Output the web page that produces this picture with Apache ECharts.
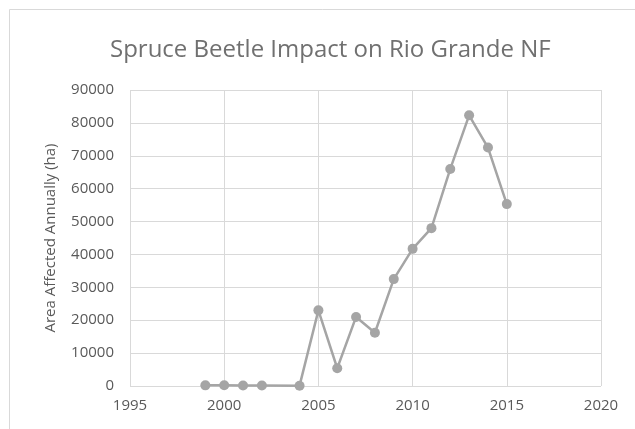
<!DOCTYPE html>
<html>
<head>
<meta charset="utf-8">
<script src="https://cdn.jsdelivr.net/npm/echarts@6/dist/echarts.min.js"></script>
<style>
  html, body { margin: 0; padding: 0; background: #fff; }
  #chart { width: 635px; height: 429px; }
</style>
</head>
<body>
<div id="chart"></div>
<script>
// Survey years and area affected by spruce beetle each year (ha)
const years = [1999, 2000, 2001, 2002, 2004, 2005, 2006, 2007, 2008, 2009, 2010, 2011, 2012, 2013, 2014, 2015];
const areaHa = [200, 250, 150, 150, 100, 23000, 5400, 21000, 16200, 32500, 41700, 48000, 66000, 82300, 72500, 55300];

const titleText = 'Spruce Beetle Impact on Rio Grande NF';
const yAxisTitle = 'Area Affected Annually (ha)';

const textColor = '#595959';
const titleColor = '#707070';
const gridColor = '#d9d9d9';
const lineColor = '#a5a5a5';
const fontFamily = '"Open Sans", sans-serif';

const chart = echarts.init(document.getElementById('chart'), null, { renderer: 'canvas' });

chart.setOption({
  animation: false,
  backgroundColor: '#ffffff',
  graphic: [{
    type: 'rect',
    shape: { x: 9.5, y: 9.5, width: 700, height: 500 },
    style: { fill: 'none', stroke: gridColor, lineWidth: 1 },
    silent: true
  }],
  title: {
    text: titleText,
    left: 105,
    top: 33,
    textStyle: { color: titleColor, fontSize: 24, fontWeight: 'normal', fontFamily: fontFamily }
  },
  grid: { left: 130, right: 34, top: 90, bottom: 43 },
  xAxis: {
    type: 'value',
    min: 1995,
    max: 2020,
    interval: 5,
    axisLine: { show: false },
    axisTick: { show: false },
    axisLabel: { color: textColor, fontSize: 15, fontFamily: fontFamily, margin: 12, formatter: v => String(v) },
    splitLine: { show: true, lineStyle: { color: gridColor, width: 1 } }
  },
  yAxis: {
    type: 'value',
    min: 0,
    max: 90000,
    interval: 10000,
    name: yAxisTitle,
    nameLocation: 'middle',
    nameGap: 72,
    nameTextStyle: { color: textColor, fontSize: 15, fontFamily: fontFamily },
    axisLine: { show: false },
    axisTick: { show: false },
    axisLabel: { color: textColor, fontSize: 15, fontFamily: fontFamily, margin: 16, formatter: v => String(v) },
    splitLine: { show: true, lineStyle: { color: gridColor, width: 1 } }
  },
  series: [{
    type: 'line',
    data: years.map((y, i) => [y, areaHa[i]]),
    symbol: 'circle',
    symbolSize: 10,
    lineStyle: { color: lineColor, width: 2.5 },
    itemStyle: { color: lineColor }
  }]
});
</script>
</body>
</html>
